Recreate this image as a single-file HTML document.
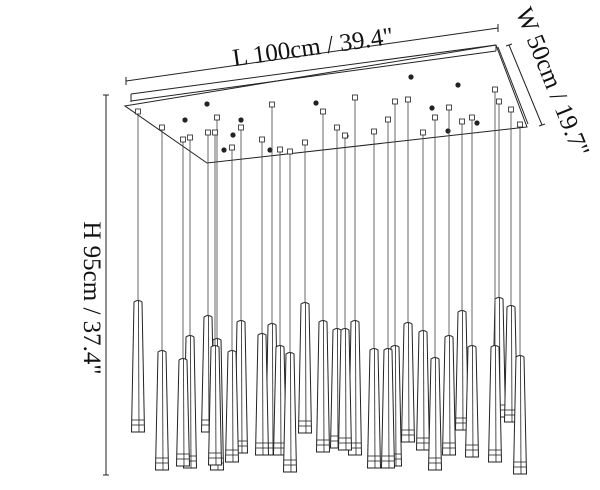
<!DOCTYPE html>
<html><head><meta charset="utf-8"><style>
html,body{margin:0;padding:0;background:#fff;width:600px;height:490px;overflow:hidden}
svg{display:block}
text{font-family:"Liberation Serif",serif;fill:#111}
</style></head><body>
<svg id="s" width="600" height="490" viewBox="0 0 600 490" xmlns="http://www.w3.org/2000/svg">
<g stroke="#222" stroke-width="1" fill="none">
<line x1="126" y1="81" x2="498" y2="28"/>
<line x1="126" y1="77" x2="126" y2="85"/><line x1="498" y1="24" x2="498" y2="32"/>
<line x1="509" y1="45" x2="542" y2="125"/>
<line x1="506" y1="46" x2="512" y2="44"/><line x1="539" y1="126" x2="545" y2="124"/>
<line x1="106" y1="95" x2="106" y2="475"/>
<line x1="103" y1="95" x2="109" y2="95"/><line x1="103" y1="475" x2="109" y2="475"/>
<polygon points="125,106 496,45 527,127 207,163" fill="#fff"/>
<line x1="131" y1="94" x2="496" y2="45"/>
<line x1="131" y1="94" x2="131" y2="102"/>
<line x1="131" y1="101" x2="496" y2="51"/>
<line x1="496" y1="45" x2="496" y2="51"/>
<line x1="498" y1="47" x2="528" y2="124"/>
</g>
<g id="p"></g>
<text x="314" y="55" font-size="25" text-anchor="middle" transform="rotate(-8 314 55)">L 100cm / 39.4"</text>
<text x="545" y="85" font-size="25" text-anchor="middle" transform="rotate(68 545 85)">W 50cm / 19.7"</text>
<text x="84" y="298" font-size="25" text-anchor="middle" transform="rotate(90 84 298)">H 95cm / 37.4"</text>
</svg>
<script>
var P=[[138,300,432,112],[162,350,470,128],[183,358,466,140],[190,335,468,138],[208,315,432,133],[217,338,470,118],[232,350,462,148],[241,320,453,128],[262,333,455,140],[272,323,455,105],[290,352,472,152],[305,302,433,143],[323,320,452,112],[337,328,448,128],[355,320,455,98],[374,348,468,132],[388,348,468,120],[395,345,466,102],[408,322,442,100],[423,330,450,133],[435,357,470,118],[449,335,455,108],[462,310,430,122],[472,345,457,118],[495,345,462,90],[499,297,417,102],[511,305,422,110],[520,355,474,125],[345,328,450,136],[280,345,455,150],[215,345,465,133]];
P.sort(function(a,b){return a[1]-b[1]});
var h='';
var dots=[[207,104],[185,120],[241,120],[233,135],[224,150],[270,150],[316,103],[346,136],[411,77],[432,108],[458,85],[448,131],[477,123]];
dots.forEach(function(d){h+='<circle cx="'+d[0]+'" cy="'+d[1]+'" r="2.6" fill="#222"/>'});
P.forEach(function(p){var x=p[0],t=p[1],b=p[2],w=p[3];
h+='<line x1="'+x+'" y1="'+w+'" x2="'+x+'" y2="'+t+'" stroke="#444" stroke-width="0.8"/>';
h+='<rect x="'+(x-2.5)+'" y="'+(w-3)+'" width="5" height="5" fill="#fff" stroke="#222" stroke-width="0.8"/>';
var tw=4,bw=6.5;
h+='<path d="M'+(x-tw)+','+(t+2)+' Q'+x+','+(t-1)+' '+(x+tw)+','+(t+2)+' L'+(x+bw)+','+b+' L'+(x-bw)+','+b+' Z" fill="#fff" stroke="#222" stroke-width="1"/>';
h+='<line x1="'+(x+0.5)+'" y1="'+(t+1)+'" x2="'+(x+1)+'" y2="'+b+'" stroke="#222" stroke-width="0.8"/>';
var y1=b-12,y2=b-7,f=function(y){return tw+(bw-tw)*(y-t)/(b-t)};
h+='<line x1="'+(x-f(y1))+'" y1="'+y1+'" x2="'+(x+f(y1))+'" y2="'+y1+'" stroke="#222" stroke-width="0.8"/>';
h+='<line x1="'+(x-f(y2))+'" y1="'+y2+'" x2="'+(x+f(y2))+'" y2="'+y2+'" stroke="#222" stroke-width="0.8"/>';
});
document.getElementById('p').innerHTML=h;
</script>
</body></html>
